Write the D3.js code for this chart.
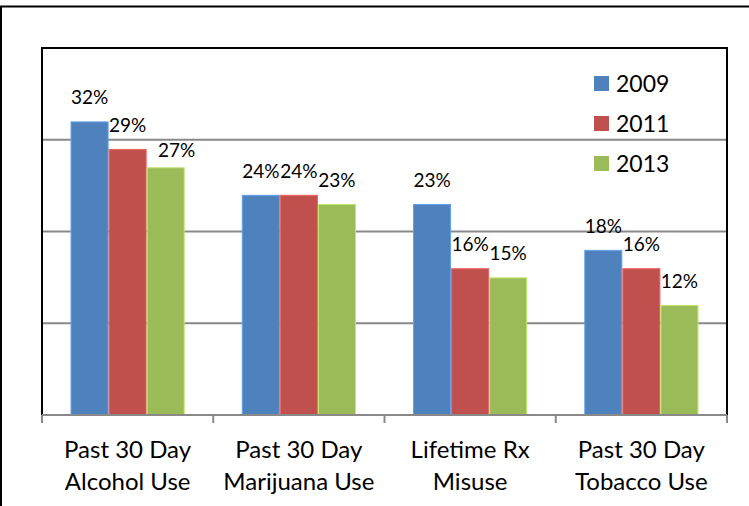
<!DOCTYPE html>
<html>
<head>
<meta charset="utf-8">
<script src="https://cdn.jsdelivr.net/npm/d3@7"></script>
<style>
  html, body { margin: 0; padding: 0; background: #fff; }
  svg { display: block; font-family: Lato, "Open Sans", sans-serif; }
</style>
</head>
<body>
<svg id="chart" width="749" height="506"></svg>
<script>
// Survey results by measure and year
const categories = [
  ["Past 30 Day", "Alcohol Use"],
  ["Past 30 Day", "Marijuana Use"],
  ["Lifetime Rx", "Misuse"],
  ["Past 30 Day", "Tobacco Use"]
];
const years = ["2009", "2011", "2013"];
const values2009 = [0.32, 0.24, 0.23, 0.18];
const values2011 = [0.29, 0.24, 0.16, 0.16];
const values2013 = [0.27, 0.23, 0.15, 0.12];
const yTicks = [0.1, 0.2, 0.3, 0.4];

const seriesValues = [values2009, values2011, values2013];
const colors = ["#4F81BD", "#C0504D", "#9BBB59"];

const svg = d3.select("#chart");
const plot = { left: 42, right: 727, top: 48, bottom: 415 };

// outer chart frame
svg.append("rect")
  .attr("x", 1).attr("y", 6.5)
  .attr("width", 780).attr("height", 560)
  .attr("fill", "none").attr("stroke", "#000").attr("stroke-width", 2);

const catKeys = categories.map((c, i) => i);
const x0 = d3.scaleBand().domain(catKeys).range([plot.left, plot.right]).padding(0);
const x1 = d3.scaleBand().domain(years).range([0, x0.bandwidth()])
  .paddingInner(0).paddingOuter(0.75);
const y = d3.scaleLinear().domain([0, 0.4]).range([plot.bottom, plot.top]);
const pct = d3.format(".0%");

// horizontal gridlines
svg.append("g").selectAll("line")
  .data(yTicks.filter(t => t < 0.4))
  .join("line")
  .attr("x1", plot.left).attr("x2", plot.right)
  .attr("y1", d => y(d)).attr("y2", d => y(d))
  .attr("stroke", "#898989").attr("stroke-width", 2);

// bars
const groups = svg.append("g").selectAll("g")
  .data(catKeys)
  .join("g")
  .attr("transform", i => `translate(${x0(i)},0)`);

groups.selectAll("rect")
  .data(i => years.map((yr, s) => ({ yr, s, v: seriesValues[s][i], cat: i })))
  .join("rect")
  .attr("x", d => x1(d.yr) + 0.5)
  .attr("width", x1.bandwidth() - 1)
  .attr("y", d => y(d.v) + 0.5)
  .attr("height", d => y(0) - y(d.v) - 0.5)
  .attr("fill", d => colors[d.s])
  .attr("stroke", d => d3.color(colors[d.s]).brighter(0.6))
  .attr("stroke-width", 1);

// value labels above each bar (the 2013 alcohol label sits slightly off to the side)
groups.selectAll("text")
  .data(i => years.map((yr, s) => ({ yr, s, v: seriesValues[s][i], cat: i })))
  .join("text")
  .attr("x", d => x1(d.yr) + x1.bandwidth() / 2 + (d.cat === 0 && d.s === 2 ? 11 : 0))
  .attr("y", d => y(d.v) - 17 + (d.cat === 0 && d.s === 2 ? 6.5 : 0))
  .attr("text-anchor", "middle")
  .attr("font-size", 19)
  .attr("fill", "#000")
  .text(d => pct(d.v));

// plot area frame: black top, left and right edges
svg.append("path")
  .attr("d", `M${plot.left},${plot.bottom}V${plot.top}H${plot.right}V${plot.bottom}`)
  .attr("fill", "none").attr("stroke", "#000").attr("stroke-width", 2);

// category axis
const xAxisLine = svg.append("g");
xAxisLine.append("line")
  .attr("x1", plot.left).attr("x2", plot.right)
  .attr("y1", plot.bottom).attr("y2", plot.bottom)
  .attr("stroke", "#898989").attr("stroke-width", 2);
xAxisLine.selectAll("line.tick")
  .data(catKeys.map(i => x0(i)).concat([plot.right]))
  .join("line")
  .attr("class", "tick")
  .attr("x1", d => d).attr("x2", d => d)
  .attr("y1", plot.bottom).attr("y2", plot.bottom + 8)
  .attr("stroke", "#898989").attr("stroke-width", 2);

const catLabels = svg.append("g").selectAll("text")
  .data(catKeys)
  .join("text")
  .attr("text-anchor", "middle")
  .attr("font-size", 24)
  .attr("fill", "#000");
catLabels.selectAll("tspan")
  .data(i => categories[i].map(line => ({ line, i })))
  .join("tspan")
  .attr("x", d => x0(d.i) + x0.bandwidth() / 2)
  .attr("y", (d, k) => 458 + k * 32)
  .text(d => d.line);

// legend
const legend = svg.append("g").selectAll("g")
  .data(years)
  .join("g")
  .attr("transform", (d, k) => `translate(594,${76 + k * 40})`);
legend.append("rect")
  .attr("width", 15).attr("height", 15)
  .attr("fill", (d, k) => colors[k]);
legend.append("text")
  .attr("x", 22).attr("y", 16)
  .attr("font-size", 23)
  .attr("fill", "#000")
  .text(d => d);
</script>
</body>
</html>
